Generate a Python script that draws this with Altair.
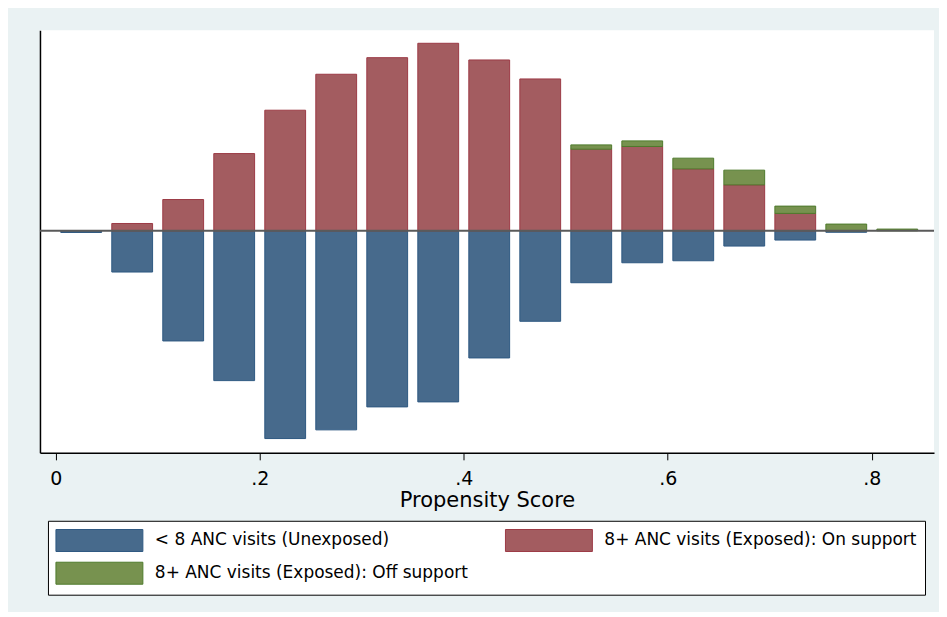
import altair as alt
import pandas as pd

# ---- data (bar heights in arbitrary frequency units) ----
bin_centers = [0.025, 0.075, 0.125, 0.175, 0.225, 0.275, 0.325, 0.375, 0.425,
               0.475, 0.525, 0.575, 0.625, 0.675, 0.725, 0.775, 0.825]
unexposed = [1.7, 41.3, 110.3, 150.0, 208.0, 199.3, 176.3, 171.3, 127.3,
             90.6, 52.0, 32.0, 30.0, 15.3, 9.3, 1.5, 0.0]
on_support = [0.0, 7.3, 31.3, 77.3, 120.7, 156.7, 173.3, 187.7, 171.0,
              152.0, 81.7, 84.4, 62.0, 46.0, 17.4, 0.0, 0.0]
off_support = [0.0, 0.0, 0.0, 0.0, 0.0, 0.0, 0.0, 0.0, 0.0,
               0.0, 4.3, 5.6, 10.7, 14.7, 7.3, 6.7, 1.7]

groups = ["< 8 ANC visits (Unexposed)",
          "8+ ANC visits (Exposed): On support",
          "8+ ANC visits (Exposed): Off support"]
fills = ["#476a8c", "#a35c60", "#77924f"]
strokes = ["#2e5882", "#9c3a45", "#4e7a2c"]

tick_values = [0, 0.2, 0.4, 0.6, 0.8]
tick_labels = ["0", ".2", ".4", ".6", ".8"]
x_title = "Propensity Score"

half_width = 0.02  # bar half-width (bars occupy 80% of each 0.05 bin)

rows = []
for i, c in enumerate(bin_centers):
    for g, v, sign, order in ((groups[0], unexposed[i], -1, 0),
                              (groups[1], on_support[i], 1, 1),
                              (groups[2], off_support[i], 1, 2)):
        if v > 0:
            rows.append({"lo": c - half_width, "hi": c + half_width,
                         "value": sign * v, "group": g, "ord": order})
df = pd.DataFrame(rows)

label_expr = " : ".join(
    f"abs(datum.value - {v}) < 1e-6 ? '{l}'" for v, l in zip(tick_values, tick_labels)
) + " : ''"

x_scale = alt.Scale(domain=[-0.0154, 0.861], nice=False, zero=False)
y_scale = alt.Scale(domain=[-222.3, 200.7], nice=False, zero=False)

bars = alt.Chart(df).transform_stack(
    stack="value", groupby=["lo"], as_=["v0", "v1"],
    sort=[alt.SortField("ord", order="ascending")], offset="zero",
).mark_bar(strokeWidth=1, opacity=1).encode(
    x=alt.X("lo:Q", scale=x_scale,
            axis=alt.Axis(values=tick_values, labelExpr=label_expr, title=x_title,
                          grid=False, domainColor="black", domainWidth=1.5,
                          tickColor="black", tickSize=7, tickWidth=1,
                          labelFont="DejaVu Sans", labelFontSize=19, labelColor="black",
                          labelPadding=10, titleFont="DejaVu Sans", titleFontSize=21,
                          titleFontWeight="normal", titleColor="black", titlePadding=1)),
    x2="hi:Q",
    y=alt.Y("v0:Q", scale=y_scale,
            axis=alt.Axis(labels=False, ticks=False, grid=False, title=None,
                          domainColor="black", domainWidth=1.5)),
    y2="v1:Q",
    color=alt.Color("group:N", scale=alt.Scale(domain=groups, range=fills),
                    legend=alt.Legend(
                        title=None, orient="none", legendX=8, legendY=491,
                        direction="horizontal",
                        columns=2, symbolType="M-3.955,-1H3.955V1H-3.955Z",
                        symbolSize=484, symbolStrokeWidth=1, symbolOffset=32,
                        symbolOpacity=1,
                        labelOffset=44, labelFont="DejaVu Sans", labelFontSize=17,
                        labelColor="black", labelLimit=800,
                        padding=8, rowPadding=6, columnPadding=34,
                        strokeColor="black", fillColor="white")),
    stroke=alt.Stroke("group:N", scale=alt.Scale(domain=groups, range=strokes), legend=None),
)

zero_line = alt.Chart(pd.DataFrame({"y": [0]})).mark_rule(
    color="#5a5a5a", strokeWidth=2).encode(y=alt.Y("y:Q", scale=y_scale))

chart = alt.layer(bars, zero_line).properties(
    width=895, height=423,
    background="#eaf2f3",
    padding={"left": 32, "top": 22, "right": 5, "bottom": 159},
    autosize=alt.AutoSizeParams(type="none"),
).configure_view(fill="white", stroke=None)

chart.save("out.html", embed_options={"renderer": "svg", "actions": False})
